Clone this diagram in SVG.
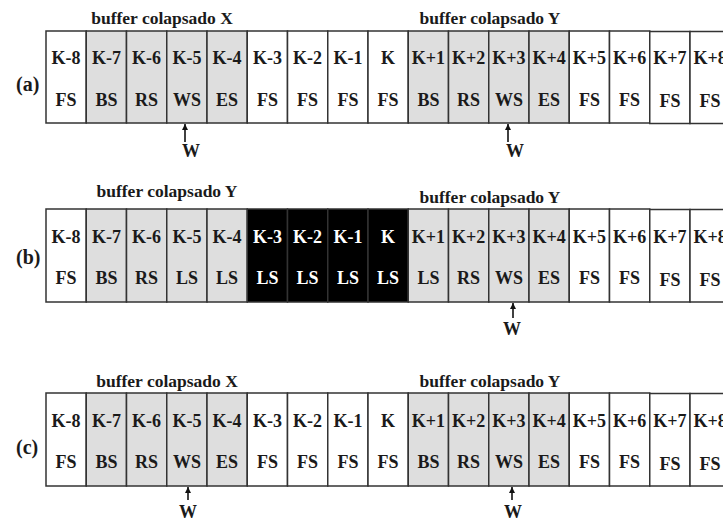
<svg xmlns="http://www.w3.org/2000/svg" width="723" height="520" viewBox="0 0 723 520">
  <style>
    text { font-family: "Liberation Serif", "Times New Roman", serif; font-weight: bold; fill: #1a1a1a; }
    .t { font-size: 18px; text-anchor: middle; }
    .ttl { font-size: 17.5px; text-anchor: middle; }
    .lbl { font-size: 20px; }
    .cell { stroke: #333333; stroke-width: 1.5; }
    .free { fill: #ffffff; }
    .busy { fill: #dedede; }
    .lost { fill: #000000; }
    .inv { fill: #ffffff; }
    .arrow { stroke: #111111; stroke-width: 1.6; fill: none; }
  </style>
  <defs>
    <marker id="head" viewBox="0 0 10 10" refX="10" refY="5" markerWidth="7" markerHeight="6" orient="auto" markerUnits="userSpaceOnUse">
      <path d="M0,0 L10,5 L0,10 z" fill="#111111"/>
    </marker>
  </defs>

  <!-- row (a) -->
  <g id="row-a">
    <text class="lbl" x="16" y="91">(a)</text>
    <text class="ttl" x="162" y="24">buffer colapsado X</text>
    <text class="ttl" x="490" y="24">buffer colapsado Y</text>
    <g id="a-k-8"><rect class="cell free" x="46" y="31" width="40.25" height="92"/><text class="t" x="66.1" y="64">K-8</text><text class="t" x="66.1" y="106">FS</text></g>
    <g id="a-k-7"><rect class="cell busy" x="86.25" y="31" width="40.25" height="92"/><text class="t" x="106.4" y="64">K-7</text><text class="t" x="106.4" y="106">BS</text></g>
    <g id="a-k-6"><rect class="cell busy" x="126.5" y="31" width="40.25" height="92"/><text class="t" x="146.6" y="64">K-6</text><text class="t" x="146.6" y="106">RS</text></g>
    <g id="a-k-5"><rect class="cell busy" x="166.75" y="31" width="40.25" height="92"/><text class="t" x="186.9" y="64">K-5</text><text class="t" x="186.9" y="106">WS</text></g>
    <g id="a-k-4"><rect class="cell busy" x="207" y="31" width="40.25" height="92"/><text class="t" x="227.1" y="64">K-4</text><text class="t" x="227.1" y="106">ES</text></g>
    <g id="a-k-3"><rect class="cell free" x="247.25" y="31" width="40.25" height="92"/><text class="t" x="267.4" y="64">K-3</text><text class="t" x="267.4" y="106">FS</text></g>
    <g id="a-k-2"><rect class="cell free" x="287.5" y="31" width="40.25" height="92"/><text class="t" x="307.6" y="64">K-2</text><text class="t" x="307.6" y="106">FS</text></g>
    <g id="a-k-1"><rect class="cell free" x="327.75" y="31" width="40.25" height="92"/><text class="t" x="347.9" y="64">K-1</text><text class="t" x="347.9" y="106">FS</text></g>
    <g id="a-k"><rect class="cell free" x="368" y="31" width="40.25" height="92"/><text class="t" x="388.1" y="64">K</text><text class="t" x="388.1" y="106">FS</text></g>
    <g id="a-k+1"><rect class="cell busy" x="408.25" y="31" width="40.25" height="92"/><text class="t" x="428.4" y="64">K+1</text><text class="t" x="428.4" y="106">BS</text></g>
    <g id="a-k+2"><rect class="cell busy" x="448.5" y="31" width="40.25" height="92"/><text class="t" x="468.6" y="64">K+2</text><text class="t" x="468.6" y="106">RS</text></g>
    <g id="a-k+3"><rect class="cell busy" x="488.75" y="31" width="40.25" height="92"/><text class="t" x="508.9" y="64">K+3</text><text class="t" x="508.9" y="106">WS</text></g>
    <g id="a-k+4"><rect class="cell busy" x="529" y="31" width="40.25" height="92"/><text class="t" x="549.1" y="64">K+4</text><text class="t" x="549.1" y="106">ES</text></g>
    <g id="a-k+5"><rect class="cell free" x="569.25" y="31" width="40.25" height="92"/><text class="t" x="589.4" y="64">K+5</text><text class="t" x="589.4" y="106">FS</text></g>
    <g id="a-k+6"><rect class="cell free" x="609.5" y="31" width="40.25" height="92"/><text class="t" x="629.6" y="64">K+6</text><text class="t" x="629.6" y="106">FS</text></g>
    <g id="a-k+7"><rect class="cell free" x="649.75" y="31.5" width="40.25" height="92"/><text class="t" x="669.9" y="64">K+7</text><text class="t" x="669.9" y="107">FS</text></g>
    <g id="a-k+8"><rect class="cell free" x="690" y="31.5" width="40.25" height="92"/><text class="t" x="710.1" y="64">K+8</text><text class="t" x="710.1" y="107">FS</text></g>
  </g>

  <!-- row (b) -->
  <g id="row-b">
    <text class="lbl" x="16" y="264">(b)</text>
    <text class="ttl" x="167" y="197">buffer colapsado Y</text>
    <text class="ttl" x="490" y="203">buffer colapsado Y</text>
    <g id="b-k-8"><rect class="cell free" x="46" y="209" width="40.25" height="93"/><text class="t" x="66.1" y="242.5">K-8</text><text class="t" x="66.1" y="284">FS</text></g>
    <g id="b-k-7"><rect class="cell busy" x="86.25" y="209" width="40.25" height="93"/><text class="t" x="106.4" y="242.5">K-7</text><text class="t" x="106.4" y="284">BS</text></g>
    <g id="b-k-6"><rect class="cell busy" x="126.5" y="209" width="40.25" height="93"/><text class="t" x="146.6" y="242.5">K-6</text><text class="t" x="146.6" y="284">RS</text></g>
    <g id="b-k-5"><rect class="cell busy" x="166.75" y="209" width="40.25" height="93"/><text class="t" x="186.9" y="242.5">K-5</text><text class="t" x="186.9" y="284">LS</text></g>
    <g id="b-k-4"><rect class="cell busy" x="207" y="209" width="40.25" height="93"/><text class="t" x="227.1" y="242.5">K-4</text><text class="t" x="227.1" y="284">LS</text></g>
    <g id="b-k-3"><rect class="cell lost" x="247.25" y="209" width="40.25" height="93"/><text class="t inv" x="267.4" y="242.5">K-3</text><text class="t inv" x="267.4" y="284">LS</text></g>
    <g id="b-k-2"><rect class="cell lost" x="287.5" y="209" width="40.25" height="93"/><text class="t inv" x="307.6" y="242.5">K-2</text><text class="t inv" x="307.6" y="284">LS</text></g>
    <g id="b-k-1"><rect class="cell lost" x="327.75" y="209" width="40.25" height="93"/><text class="t inv" x="347.9" y="242.5">K-1</text><text class="t inv" x="347.9" y="284">LS</text></g>
    <g id="b-k"><rect class="cell lost" x="368" y="209" width="40.25" height="93"/><text class="t inv" x="388.1" y="242.5">K</text><text class="t inv" x="388.1" y="284">LS</text></g>
    <g id="b-k+1"><rect class="cell busy" x="408.25" y="209" width="40.25" height="93"/><text class="t" x="428.4" y="242.5">K+1</text><text class="t" x="428.4" y="284">LS</text></g>
    <g id="b-k+2"><rect class="cell busy" x="448.5" y="209" width="40.25" height="93"/><text class="t" x="468.6" y="242.5">K+2</text><text class="t" x="468.6" y="284">RS</text></g>
    <g id="b-k+3"><rect class="cell busy" x="488.75" y="209" width="40.25" height="93"/><text class="t" x="508.9" y="242.5">K+3</text><text class="t" x="508.9" y="284">WS</text></g>
    <g id="b-k+4"><rect class="cell busy" x="529" y="209" width="40.25" height="93"/><text class="t" x="549.1" y="242.5">K+4</text><text class="t" x="549.1" y="284">ES</text></g>
    <g id="b-k+5"><rect class="cell free" x="569.25" y="209" width="40.25" height="93"/><text class="t" x="589.4" y="242.5">K+5</text><text class="t" x="589.4" y="284">FS</text></g>
    <g id="b-k+6"><rect class="cell free" x="609.5" y="209" width="40.25" height="93"/><text class="t" x="629.6" y="242.5">K+6</text><text class="t" x="629.6" y="284">FS</text></g>
    <g id="b-k+7"><rect class="cell free" x="649.75" y="209.5" width="40.25" height="92.5"/><text class="t" x="669.9" y="242.5">K+7</text><text class="t" x="669.9" y="285.5">FS</text></g>
    <g id="b-k+8"><rect class="cell free" x="690" y="209.5" width="40.25" height="92.5"/><text class="t" x="710.1" y="242.5">K+8</text><text class="t" x="710.1" y="285.5">FS</text></g>
  </g>

  <!-- row (c) -->
  <g id="row-c">
    <text class="lbl" x="16" y="454">(c)</text>
    <text class="ttl" x="167" y="387">buffer colapsado X</text>
    <text class="ttl" x="490" y="387">buffer colapsado Y</text>
    <g id="c-k-8"><rect class="cell free" x="46" y="393" width="40.25" height="93"/><text class="t" x="66.1" y="426.5">K-8</text><text class="t" x="66.1" y="468">FS</text></g>
    <g id="c-k-7"><rect class="cell busy" x="86.25" y="393" width="40.25" height="93"/><text class="t" x="106.4" y="426.5">K-7</text><text class="t" x="106.4" y="468">BS</text></g>
    <g id="c-k-6"><rect class="cell busy" x="126.5" y="393" width="40.25" height="93"/><text class="t" x="146.6" y="426.5">K-6</text><text class="t" x="146.6" y="468">RS</text></g>
    <g id="c-k-5"><rect class="cell busy" x="166.75" y="393" width="40.25" height="93"/><text class="t" x="186.9" y="426.5">K-5</text><text class="t" x="186.9" y="468">WS</text></g>
    <g id="c-k-4"><rect class="cell busy" x="207" y="393" width="40.25" height="93"/><text class="t" x="227.1" y="426.5">K-4</text><text class="t" x="227.1" y="468">ES</text></g>
    <g id="c-k-3"><rect class="cell free" x="247.25" y="393" width="40.25" height="93"/><text class="t" x="267.4" y="426.5">K-3</text><text class="t" x="267.4" y="468">FS</text></g>
    <g id="c-k-2"><rect class="cell free" x="287.5" y="393" width="40.25" height="93"/><text class="t" x="307.6" y="426.5">K-2</text><text class="t" x="307.6" y="468">FS</text></g>
    <g id="c-k-1"><rect class="cell free" x="327.75" y="393" width="40.25" height="93"/><text class="t" x="347.9" y="426.5">K-1</text><text class="t" x="347.9" y="468">FS</text></g>
    <g id="c-k"><rect class="cell free" x="368" y="393" width="40.25" height="93"/><text class="t" x="388.1" y="426.5">K</text><text class="t" x="388.1" y="468">FS</text></g>
    <g id="c-k+1"><rect class="cell busy" x="408.25" y="393" width="40.25" height="93"/><text class="t" x="428.4" y="426.5">K+1</text><text class="t" x="428.4" y="468">BS</text></g>
    <g id="c-k+2"><rect class="cell busy" x="448.5" y="393" width="40.25" height="93"/><text class="t" x="468.6" y="426.5">K+2</text><text class="t" x="468.6" y="468">RS</text></g>
    <g id="c-k+3"><rect class="cell busy" x="488.75" y="393" width="40.25" height="93"/><text class="t" x="508.9" y="426.5">K+3</text><text class="t" x="508.9" y="468">WS</text></g>
    <g id="c-k+4"><rect class="cell busy" x="529" y="393" width="40.25" height="93"/><text class="t" x="549.1" y="426.5">K+4</text><text class="t" x="549.1" y="468">ES</text></g>
    <g id="c-k+5"><rect class="cell free" x="569.25" y="393" width="40.25" height="93"/><text class="t" x="589.4" y="426.5">K+5</text><text class="t" x="589.4" y="468">FS</text></g>
    <g id="c-k+6"><rect class="cell free" x="609.5" y="393" width="40.25" height="93"/><text class="t" x="629.6" y="426.5">K+6</text><text class="t" x="629.6" y="468">FS</text></g>
    <g id="c-k+7"><rect class="cell free" x="649.75" y="393.5" width="40.25" height="92.5"/><text class="t" x="669.9" y="426.5">K+7</text><text class="t" x="669.9" y="469.5">FS</text></g>
    <g id="c-k+8"><rect class="cell free" x="690" y="393.5" width="40.25" height="92.5"/><text class="t" x="710.1" y="426.5">K+8</text><text class="t" x="710.1" y="469.5">FS</text></g>
  </g>

  <!-- window pointers -->
  <g id="connectors">
    <line class="arrow" x1="185" y1="142" x2="185" y2="124" marker-end="url(#head)"/>
    <line class="arrow" x1="508" y1="142" x2="508" y2="124" marker-end="url(#head)"/>
    <line class="arrow" x1="513" y1="318" x2="513" y2="303" marker-end="url(#head)"/>
    <line class="arrow" x1="188" y1="500" x2="188" y2="487" marker-end="url(#head)"/>
    <line class="arrow" x1="512" y1="500" x2="512" y2="487" marker-end="url(#head)"/>
  </g>
  <g id="pointer-labels">
    <text class="t" x="191" y="157">W</text>
    <text class="t" x="515" y="157">W</text>
    <text class="t" x="512" y="335">W</text>
    <text class="t" x="188" y="518">W</text>
    <text class="t" x="513" y="518">W</text>
  </g>
</svg>
